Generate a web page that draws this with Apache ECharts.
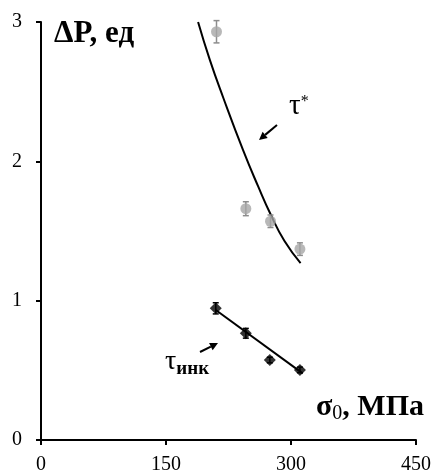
<!DOCTYPE html>
<html>
<head>
<meta charset="utf-8">
<script src="https://cdn.jsdelivr.net/npm/echarts@6/dist/echarts.min.js"></script>
<style>
  html, body { margin: 0; padding: 0; background: #fff; }
  #main { width: 434px; height: 472px; }
</style>
</head>
<body>
<div id="main"></div>
<script>
// measured points, tau* (grey circles)
var starX = [210.6, 245.8, 275.4, 310.7];
var starY = [2.93, 1.66, 1.57, 1.37];
var starErr = [0.08, 0.05, 0.045, 0.045];
// tau_ink (black diamonds)
var inkX = [209.7, 245.8, 274.6, 310.7];
var inkY = [0.945, 0.766, 0.574, 0.503];
var inkErr = [0.04, 0.035, 0.02, 0.02];
// trend lines
var starFitX = [188.5, 202.5, 218.5, 242.5, 260.6, 275.5, 292, 311.5];
var starFitY = [3.0, 2.73, 2.46, 2.08, 1.82, 1.62, 1.43, 1.27];
var inkFitX = [209.7, 314];
var inkFitY = [0.933, 0.478];
var xTicks = [0, 150, 300, 450];
var yTicks = [0, 1, 2, 3];

var font = 'Liberation Serif';

function pairs(xs, ys) {
  return xs.map(function (x, i) { return [x, ys[i]]; });
}
function errData(xs, ys, es) {
  return xs.map(function (x, i) { return [x, ys[i] - es[i], ys[i] + es[i]]; });
}
function errBars(color) {
  return function (params, api) {
    var lo = api.coord([api.value(0), api.value(1)]);
    var hi = api.coord([api.value(0), api.value(2)]);
    var st = { stroke: color, lineWidth: 1.5 };
    return {
      type: 'group',
      children: [
        { type: 'line', shape: { x1: lo[0], y1: lo[1], x2: hi[0], y2: hi[1] }, style: st },
        { type: 'line', shape: { x1: lo[0] - 3, y1: lo[1], x2: lo[0] + 3, y2: lo[1] }, style: st },
        { type: 'line', shape: { x1: hi[0] - 3, y1: hi[1], x2: hi[0] + 3, y2: hi[1] }, style: st }
      ]
    };
  };
}
// arrow from (x1,y1) to (x2,y2), head at the second point
function arrow(x1, y1, x2, y2) {
  var a = Math.atan2(y2 - y1, x2 - x1), L = 8, W = 4;
  var bx = x2 - L * Math.cos(a), by = y2 - L * Math.sin(a);
  return [
    { type: 'line', shape: { x1: x1, y1: y1, x2: bx, y2: by }, style: { stroke: '#000', lineWidth: 2 } },
    { type: 'polygon', shape: { points: [[x2, y2],
      [bx + W * Math.sin(a), by - W * Math.cos(a)],
      [bx - W * Math.sin(a), by + W * Math.cos(a)]] }, style: { fill: '#000' } }
  ];
}

var chart = echarts.init(document.getElementById('main'));
var option = {
  animation: false,
  backgroundColor: '#fff',
  grid: { left: 41, right: 18, top: 22, bottom: 32, outerBoundsMode: 'none' },
  xAxis: {
    type: 'value', min: xTicks[0], max: xTicks[xTicks.length - 1], interval: 150,
    splitLine: { show: false },
    axisLine: { lineStyle: { color: '#000', width: 2 } },
    axisTick: { lineStyle: { color: '#000', width: 2 }, length: 5 },
    axisLabel: { color: '#000', fontFamily: font, fontSize: 20, margin: 15 }
  },
  yAxis: {
    type: 'value', min: yTicks[0], max: yTicks[yTicks.length - 1], interval: 1,
    splitLine: { show: false },
    axisLine: { show: true, lineStyle: { color: '#000', width: 2 } },
    axisTick: { show: true, lineStyle: { color: '#000', width: 2 }, length: 5 },
    axisLabel: { color: '#000', fontFamily: font, fontSize: 20, margin: 19 }
  },
  series: [
    {
      type: 'line', data: pairs(starFitX, starFitY), smooth: 0.5,
      showSymbol: false, lineStyle: { color: '#000', width: 2 }, z: 1
    },
    {
      type: 'line', data: pairs(inkFitX, inkFitY),
      showSymbol: false, lineStyle: { color: '#000', width: 2 }, z: 1
    },
    {
      type: 'custom', data: errData(starX, starY, starErr), renderItem: errBars('#8c8c8c'), z: 2
    },
    {
      type: 'custom', data: errData(inkX, inkY, inkErr), renderItem: errBars('#000'), z: 2
    },
    {
      type: 'scatter', data: pairs(starX, starY), symbol: 'circle', symbolSize: 11,
      itemStyle: { color: '#a6a6a6' }, z: 3
    },
    {
      type: 'scatter', data: pairs(inkX, inkY), symbol: 'diamond', symbolSize: 12,
      itemStyle: { color: '#000' }, z: 3
    }
  ],
  graphic: [
    {
      type: 'text', left: 54, top: 18,
      style: { text: 'ΔP, ед', fill: '#000', font: 'bold 31px "Liberation Serif"' }
    },
    {
      type: 'text', right: 10, top: 392,
      style: {
        text: '{a|σ}{s|0}{a|, МПа}',
        rich: {
          a: { fontFamily: font, fontWeight: 'bold', fontSize: 30, fill: '#000' },
          s: { fontFamily: font, fontSize: 20, fill: '#000', padding: [14, 0, 0, 0] }
        }
      }
    },
    {
      type: 'text', left: 289, top: 92,
      style: {
        text: '{a|τ}{s|*}',
        rich: {
          a: { fontFamily: font, fontSize: 29, fill: '#000' },
          s: { fontFamily: font, fontSize: 16, fill: '#000', padding: [0, 0, 10, 0] }
        }
      }
    },
    {
      type: 'text', left: 165, top: 348,
      style: {
        text: '{a|τ}{s|инк}',
        rich: {
          a: { fontFamily: font, fontSize: 28, fill: '#000' },
          s: { fontFamily: font, fontWeight: 'bold', fontSize: 19, fill: '#000', padding: [14, 0, 0, 0] }
        }
      }
    }
  ].concat(arrow(277, 125, 259, 140)).concat(arrow(200, 352, 218, 343))
};
chart.setOption(option);
</script>
</body>
</html>
